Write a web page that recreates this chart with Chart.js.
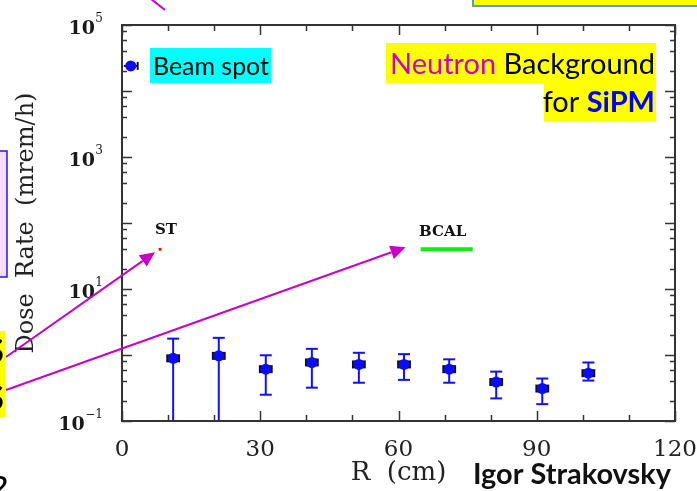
<!DOCTYPE html>
<html><head><meta charset="utf-8">
<script src="https://cdn.jsdelivr.net/npm/chart.js@4.4.1/dist/chart.umd.min.js"></script>
<style>html,body{margin:0;padding:0;background:#fff;overflow:hidden}#wrap{width:697px;height:491px;position:relative}</style>
</head><body><div id="wrap"><canvas id="c" width="697" height="491"></canvas></div>
<script>
// ---- data ----
const radius   = [11.1, 21.0, 31.2, 41.2, 51.4, 61.2, 71.0, 81.2, 91.2, 101.2];
const dose     = [0.89, 0.97, 0.61, 0.77, 0.72, 0.72, 0.61, 0.39, 0.31, 0.53];
const doseHigh = [1.77, 1.82, 0.99, 1.24, 1.08, 1.03, 0.86, 0.56, 0.44, 0.77];
const doseLow  = [0.05, 0.05, 0.25, 0.32, 0.38, 0.42, 0.38, 0.22, 0.18, 0.41];
const radiusErr = 1.5;
const beamR = [1.9];
const beamDose = [2.4e4];
const stR = [8.25];
const stDose = [40];
const bcalR = [64.8, 76.1];
const bcalDose = [40, 40];
const xTicks = [0, 30, 60, 90, 120];
const yTicks = [0.1, 10, 1000, 100000];

const AXIS_COL = '#333';
const SERIF = '"DejaVu Serif", "Liberation Serif", serif';
const SANS = 'Lato, "Open Sans", "Liberation Sans", sans-serif';

function fitSize(ctx, text, weight, family, targetW, base) {
  ctx.font = weight + ' ' + base + 'px ' + family;
  const w = ctx.measureText(text).width;
  return base * targetW / w;
}

const framePlugin = {
  id: 'frame',
  beforeDatasetsDraw(chart) {
    const {ctx, chartArea: a, scales: {x, y}} = chart;
    ctx.save();
    ctx.beginPath(); ctx.rect(a.left, a.top, a.right - a.left, a.bottom - a.top); ctx.clip();
    for (let i = 0; i < radius.length; i++) {
      const px = x.getPixelForValue(radius[i]);
      const yh = y.getPixelForValue(doseHigh[i]);
      const yl = y.getPixelForValue(doseLow[i]);
      ctx.strokeStyle = '#1010ff'; ctx.lineWidth = 2;
      ctx.beginPath(); ctx.moveTo(px, yh); ctx.lineTo(px, yl); ctx.stroke();
      ctx.beginPath(); ctx.moveTo(px - 6, yh); ctx.lineTo(px + 6, yh); ctx.stroke();
      ctx.beginPath(); ctx.moveTo(px - 6, yl); ctx.lineTo(px + 6, yl); ctx.stroke();
      const yc = y.getPixelForValue(dose[i]);
      ctx.strokeStyle = '#111'; ctx.lineWidth = 8;
      ctx.beginPath();
      ctx.moveTo(x.getPixelForValue(radius[i] - radiusErr), yc);
      ctx.lineTo(x.getPixelForValue(radius[i] + radiusErr), yc); ctx.stroke();
    }
    const by = y.getPixelForValue(beamDose[0]);
    const bx1 = x.getPixelForValue(beamR[0] - radiusErr), bx2 = x.getPixelForValue(beamR[0] + radiusErr);
    ctx.strokeStyle = '#111'; ctx.lineWidth = 2;
    ctx.beginPath(); ctx.moveTo(bx1, by); ctx.lineTo(bx2, by); ctx.stroke();
    ctx.beginPath(); ctx.moveTo(bx2, by - 4); ctx.lineTo(bx2, by + 4); ctx.stroke();
    ctx.restore();
  },
  afterDraw(chart) {
    const {ctx, chartArea: a, scales: {x, y}} = chart;
    ctx.save();
    ctx.strokeStyle = AXIS_COL; ctx.lineWidth = 2;
    ctx.strokeRect(a.left, a.top, a.right - a.left, a.bottom - a.top);
    ctx.lineWidth = 1.5;
    for (let v = 0; v <= 120; v += 10) {
      const px = Math.round(x.getPixelForValue(v)) + 0.5;
      const len = v % 30 === 0 ? 10 : 6;
      ctx.beginPath();
      ctx.moveTo(px, a.bottom); ctx.lineTo(px, a.bottom - len);
      ctx.moveTo(px, a.top); ctx.lineTo(px, a.top + len);
      ctx.stroke();
    }
    for (let e = -1; e <= 5; e++) {
      const list = [[Math.pow(10, e), 10]];
      if (e < 5) [2, 4, 6, 8].forEach(m => list.push([m * Math.pow(10, e), 5]));
      list.forEach(([v, len]) => {
        const py = Math.round(y.getPixelForValue(v)) + 0.5;
        ctx.beginPath();
        ctx.moveTo(a.left, py); ctx.lineTo(a.left + len, py);
        ctx.moveTo(a.right, py); ctx.lineTo(a.right - len, py);
        ctx.stroke();
      });
    }
    // y tick labels: 10 with superscript exponent, placed by the log scale
    ctx.fillStyle = '#1a1a1a'; ctx.textBaseline = 'alphabetic';
    yTicks.forEach(v => {
      const py = y.getPixelForValue(v);
      const ex = String(Math.round(Math.log10(v))).replace('-', '\u2212');
      ctx.font = '12px ' + SERIF; ctx.textAlign = 'right';
      const ew = ctx.measureText(ex).width;
      const right = a.left - 19;
      ctx.fillText(ex, right, py - 3);
      ctx.font = 'bold 19px ' + SERIF;
      ctx.fillText('10', right - ew - 0.5, py + 9);
    });
    // labels ST / BCAL
    ctx.fillStyle = '#111'; ctx.font = 'bold 15px ' + SERIF; ctx.textAlign = 'center';
    ctx.fillText('ST', x.getPixelForValue(stR[0]) + 6, y.getPixelForValue(stDose[0]) - 15);
    ctx.fillText('BCAL', (x.getPixelForValue(bcalR[0]) + x.getPixelForValue(bcalR[1])) / 2 - 4, y.getPixelForValue(bcalDose[0]) - 13);

    // Beam spot annotation
    ctx.fillStyle = '#00ffff'; ctx.fillRect(150, 48, 121, 35);
    ctx.fillStyle = '#000'; ctx.textAlign = 'left';
    let fs = fitSize(ctx, 'Beam spot', 'normal', SANS, 116, 24);
    ctx.font = fs + 'px ' + SANS; ctx.fillText('Beam spot', 153, 75);

    // Neutron Background for SiPM
    ctx.fillStyle = '#ffff00'; ctx.fillRect(386, 43, 270, 40); ctx.fillRect(544, 83, 112, 38);
    fs = fitSize(ctx, 'Neutron Background', 'normal', SANS, 265, 24);
    ctx.font = fs + 'px ' + SANS; ctx.textAlign = 'right';
    ctx.fillStyle = '#000'; ctx.fillText('Background', 655, 74);
    const bw = ctx.measureText('Background ').width;
    ctx.fillStyle = '#cc00cc'; ctx.fillText('Neutron', 655 - bw, 74);
    ctx.font = 'bold ' + fs + 'px ' + SANS; ctx.fillStyle = '#0000ff'; ctx.fillText('SiPM', 655, 112);
    const sw = ctx.measureText('SiPM').width;
    ctx.font = fs + 'px ' + SANS; ctx.fillStyle = '#000'; ctx.fillText('for ', 655 - sw, 112);

    // author
    fs = fitSize(ctx, 'Igor Strakovsky', 'bold', SANS, 198, 24);
    ctx.font = 'bold ' + fs + 'px ' + SANS; ctx.textAlign = 'left'; ctx.fillStyle = '#111';
    ctx.fillText('Igor Strakovsky', 473, 484);

    // slide decorations
    ctx.fillStyle = '#f6dcf6'; ctx.fillRect(-2, 151, 9, 126);
    ctx.strokeStyle = '#1a1aff'; ctx.lineWidth = 1.5; ctx.strokeRect(-2, 151, 9, 126);
    ctx.fillStyle = '#ffff00'; ctx.fillRect(0, 331, 5, 86);
    ctx.fillStyle = '#000'; ctx.font = 'bold 34px ' + SANS; ctx.textAlign = 'right';
    ctx.fillText('S', 4, 363); ctx.fillText('S', 4, 410);
    ctx.font = 'bold 26px ' + SANS; ctx.fillText('2', 8, 495);
    ctx.fillStyle = '#ffff00'; ctx.fillRect(473, -4, 230, 10);
    ctx.strokeStyle = '#5b9bd5'; ctx.lineWidth = 2; ctx.strokeRect(473, -4, 230, 10);

    const mag = '#c800c8';
    function arrow(x1, y1, x2, y2, head) {
      ctx.strokeStyle = mag; ctx.fillStyle = mag; ctx.lineWidth = 2;
      const ang = Math.atan2(y2 - y1, x2 - x1);
      const hl = 15, hw = 7;
      const bx = x2 - hl * Math.cos(ang), byy = y2 - hl * Math.sin(ang);
      ctx.beginPath(); ctx.moveTo(x1, y1); ctx.lineTo(head ? bx : x2, head ? byy : y2); ctx.stroke();
      if (head) {
        ctx.beginPath(); ctx.moveTo(x2, y2);
        ctx.lineTo(bx - hw * Math.sin(ang), byy + hw * Math.cos(ang));
        ctx.lineTo(bx + hw * Math.sin(ang), byy - hw * Math.cos(ang));
        ctx.closePath(); ctx.fill();
      }
    }
    arrow(6, 357, x.getPixelForValue(stR[0]) - 5, y.getPixelForValue(stDose[0]) + 3, true);
    arrow(6, 390, x.getPixelForValue(bcalR[0]) - 15, y.getPixelForValue(bcalDose[0]) - 2, true);
    arrow(151, -1, 165, 10, false);
    ctx.restore();
  }
};

new Chart(document.getElementById('c'), {
  type: 'scatter',
  data: {
    datasets: [
      { label: 'Dose rate', data: radius.map((r, i) => ({x: r, y: dose[i]})),
        backgroundColor: '#0a0aff', borderColor: '#0a0aff', pointRadius: 5.5, pointHoverRadius: 5.5, borderWidth: 0 },
      { label: 'Beam spot', data: beamR.map((r, i) => ({x: r, y: beamDose[i]})),
        backgroundColor: '#0a0aff', borderColor: '#0a0aff', pointRadius: 5.5, borderWidth: 0 },
      { label: 'ST', data: stR.map((r, i) => ({x: r, y: stDose[i]})),
        backgroundColor: '#ff0000', borderColor: '#ff0000', pointRadius: 2, pointStyle: 'rect', borderWidth: 0 },
      { label: 'BCAL', type: 'line', data: bcalR.map((r, i) => ({x: r, y: bcalDose[i]})),
        borderColor: '#11ee11', borderWidth: 4, pointRadius: 0, showLine: true, fill: false }
    ]
  },
  options: {
    responsive: false, animation: false, devicePixelRatio: 1,
    layout: { padding: { top: 25, right: 22, left: 0, bottom: 0 } },
    plugins: { legend: { display: false }, tooltip: { enabled: false } },
    scales: {
      x: {
        type: 'linear', min: 0, max: 120, position: 'bottom',
        afterBuildTicks: s => { s.ticks = xTicks.map(v => ({value: v})); },
        afterFit: s => { s.height = 70; s.paddingLeft = 0; s.paddingRight = 0; },
        grid: { display: false }, border: { display: false },
        ticks: { color: '#222', font: { family: SERIF, size: 23 }, padding: 7, maxRotation: 0 },
        title: { display: true, text: 'R  (cm)', color: '#222', font: { family: SERIF, size: 26 }, padding: { top: 0, bottom: 2 } }
      },
      y: {
        type: 'logarithmic', min: 0.1, max: 1e5,
        afterBuildTicks: s => { s.ticks = yTicks.map(v => ({value: v})); },
        afterFit: s => { s.width = 122; s.paddingTop = 0; s.paddingBottom = 0; },
        grid: { display: false, drawTicks: false }, border: { display: false },
        ticks: { display: false },
        title: { display: true, text: 'Dose  Rate  (mrem/h)', color: '#222', font: { family: SERIF, size: 24 }, padding: { top: 12, bottom: 0 } }
      }
    }
  },
  plugins: [framePlugin]
});
</script></body></html>
